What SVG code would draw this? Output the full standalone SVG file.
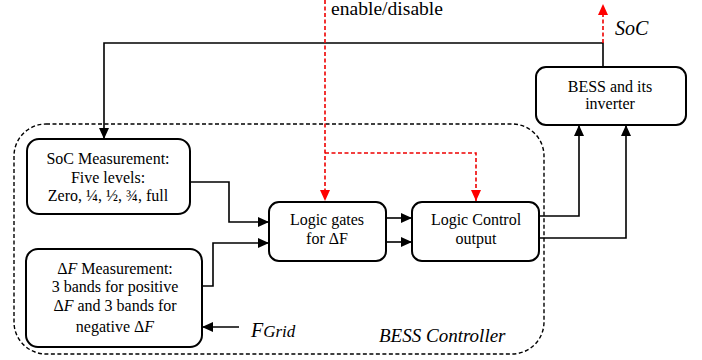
<svg xmlns="http://www.w3.org/2000/svg" width="702" height="360" viewBox="0 0 702 360">
<style>
text{font-family:"Liberation Serif","Times New Roman","DejaVu Serif",serif;fill:#000}
.box{fill:#fff;stroke:#000;stroke-width:2}
.t{font-size:16px;text-anchor:middle}
.it{font-style:italic}
.c{fill:none;stroke:#000;stroke-width:1.6}
.r{fill:none;stroke:#e00;stroke-width:1.6;stroke-dasharray:4 2.5}
</style>
<defs>
<marker id="ab" markerUnits="userSpaceOnUse" markerWidth="12" markerHeight="10" refX="11" refY="5" orient="auto"><path d="M0,0 L11,5 L0,10 Z" fill="#000"/></marker>
<marker id="ar" markerUnits="userSpaceOnUse" markerWidth="12" markerHeight="10" refX="11" refY="5" orient="auto"><path d="M0,0 L11,5 L0,10 Z" fill="#f00"/></marker>
</defs>
<g id="controller">
<rect x="14" y="124" width="530" height="230" rx="32" fill="none" stroke="#000" stroke-width="1.4" stroke-dasharray="4 2.5"/>
<text class="it" x="379" y="342" font-size="19">BESS Controller</text>
</g>
<g id="connectors">
<path class="c" d="M603,67 V43 H104 V139" marker-end="url(#ab)"/>
<path class="c" d="M190,182 H229 V222 H269" marker-end="url(#ab)"/>
<path class="c" d="M202,286 H213 V243 H269" marker-end="url(#ab)"/>
<path class="c" d="M386,218 H412" marker-end="url(#ab)"/>
<path class="c" d="M386,242 H412" marker-end="url(#ab)"/>
<path class="c" d="M539,216 H579 V125" marker-end="url(#ab)"/>
<path class="c" d="M539,238 H626 V125" marker-end="url(#ab)"/>
<path class="c" d="M239,327 H202" marker-end="url(#ab)"/>
<path class="r" d="M325,0 V201" marker-end="url(#ar)"/>
<path class="r" d="M325,153 H476 V201" marker-end="url(#ar)"/>
<path class="r" d="M603,43 V4" marker-end="url(#ar)"/>
</g>
<g id="labels">
<text x="331" y="15" font-size="18" textLength="112" lengthAdjust="spacingAndGlyphs">enable/disable</text>
<text class="it" x="615" y="35" font-size="20">SoC</text>
<text class="it" x="251" y="337" font-size="20">F<tspan font-size="17">Grid</tspan></text>
</g>
<g id="soc">
<rect class="box" x="27" y="139" width="163" height="75" rx="12"/>
<text class="t" x="108" y="164">SoC Measurement:</text>
<text class="t" x="108" y="183">Five levels:</text>
<text class="t" x="108" y="201">Zero, ¼, ½, ¾, full</text>
</g>
<g id="df">
<rect class="box" x="26" y="249" width="176" height="98" rx="12"/>
<text class="t" x="115" y="274">Δ<tspan class="it">F</tspan> Measurement:</text>
<text class="t" x="115" y="292">3 bands for positive</text>
<text class="t" x="115" y="311">Δ<tspan class="it">F</tspan> and 3 bands for</text>
<text class="t" x="115" y="332">negative Δ<tspan class="it">F</tspan></text>
</g>
<g id="gates">
<rect class="box" x="269" y="202" width="117" height="59" rx="10"/>
<text class="t" x="327" y="225">Logic gates</text>
<text class="t" x="327" y="244">for ΔF</text>
</g>
<g id="control">
<rect class="box" x="412" y="202" width="127" height="59" rx="10"/>
<text class="t" x="476" y="225">Logic Control</text>
<text class="t" x="476" y="244">output</text>
</g>
<g id="bess">
<rect class="box" x="536" y="67" width="150" height="58" rx="10"/>
<text class="t" x="610" y="92">BESS and its</text>
<text class="t" x="610" y="109">inverter</text>
</g>
</svg>
